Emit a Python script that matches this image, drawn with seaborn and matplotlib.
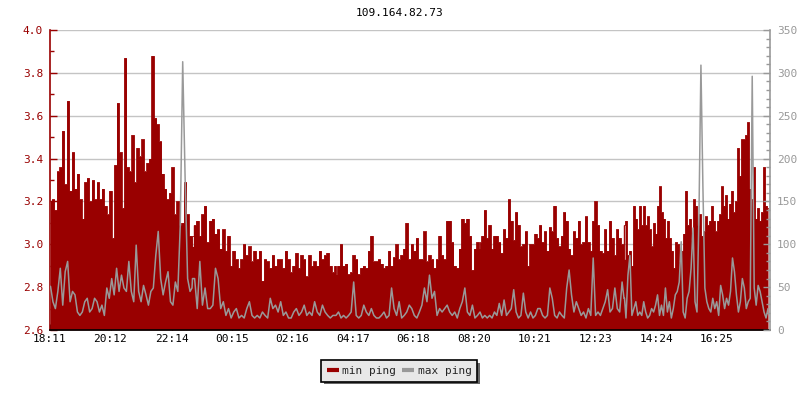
import numpy as np
import pandas as pd
import matplotlib
matplotlib.use("Agg")
import matplotlib.pyplot as plt
import seaborn as sns
from matplotlib.ticker import MultipleLocator, FormatStrFormatter

# ---------------- data ----------------
title = "109.164.82.73"
series_names = ["min ping", "max ping"]
tick_labels = ["18:11", "20:12", "22:14", "00:15", "02:16", "04:17",
               "06:18", "08:20", "10:21", "12:23", "14:24", "16:25"]
span_minutes = 1440  # 24 h window starting 18:11

# time windows (minutes after 18:11) covered by each chunk of samples
chunk_start = [1, 284, 572, 860, 1148]
chunk_end = [285, 571, 860, 1149, 1436]

# min ping (left axis)
min_ping_1 = [3.20, 3.21, 3.16, 3.34, 3.36, 3.53, 3.28, 3.67, 3.25, 3.43, 3.26, 3.33,
              3.21, 3.12, 3.29, 3.31, 3.20, 3.30, 3.21, 3.29, 3.21, 3.26, 3.18, 3.14,
              3.25, 3.03, 3.37, 3.66, 3.43, 3.17, 3.87, 3.36, 3.34, 3.51, 3.29, 3.45,
              3.41, 3.49, 3.34, 3.38, 3.40, 3.88, 3.59, 3.56, 3.48, 3.33, 3.26, 3.21,
              3.24, 3.36, 3.14, 3.20, 3.09, 3.10, 3.29, 3.14, 3.04, 3.04]
min_ping_2 = [2.99, 3.09, 3.11, 3.04, 3.14, 3.18, 3.01, 3.11, 3.12, 3.05, 3.07, 2.98,
              3.07, 2.97, 3.04, 2.90, 2.97, 2.93, 2.89, 2.93, 3.00, 2.95, 2.99, 2.92,
              2.97, 2.93, 2.97, 2.83, 2.93, 2.92, 2.89, 2.95, 2.90, 2.93, 2.93, 2.89,
              2.97, 2.93, 2.87, 2.90, 2.96, 2.89, 2.95, 2.93, 2.85, 2.95, 2.90, 2.92,
              2.90, 2.97, 2.93, 2.95, 2.96, 2.90, 2.87, 2.90]
min_ping_3 = [2.86, 2.90, 3.00, 2.90, 2.91, 2.86, 2.87, 2.95, 2.93, 2.86, 2.89, 2.90,
              2.89, 2.97, 3.04, 2.92, 2.92, 2.93, 2.91, 2.89, 2.90, 2.97, 2.90, 2.94,
              3.00, 2.93, 2.95, 2.98, 3.10, 2.93, 3.00, 2.97, 3.03, 2.93, 2.93, 3.06,
              2.92, 2.95, 2.93, 2.89, 2.93, 3.04, 2.95, 2.93, 3.11, 3.11, 3.01, 2.90,
              2.89, 2.98, 3.12, 3.10, 3.12, 3.04, 2.88, 2.98, 3.01, 2.98]
min_ping_4 = [3.01, 3.04, 3.16, 3.03, 3.09, 2.98, 3.04, 3.04, 3.01, 2.96, 3.07, 3.03,
              3.21, 3.11, 3.02, 3.15, 3.09, 2.99, 3.00, 3.06, 2.90, 3.00, 3.00, 3.05,
              3.03, 3.09, 3.01, 3.06, 2.97, 3.08, 3.06, 3.18, 3.03, 2.99, 3.04, 3.15,
              3.11, 2.98, 2.95, 3.06, 3.03, 3.11, 3.00, 3.01, 3.13, 3.01, 2.97, 3.11,
              3.20, 3.09, 2.97, 2.96, 3.07, 2.97, 3.11, 3.03, 2.95, 3.07, 3.03, 3.00,
              3.09]
min_ping_5 = [2.93, 3.11, 2.95, 2.97, 2.90, 3.18, 3.12, 3.07, 3.18, 3.09, 3.18, 3.09,
              3.13, 3.07, 2.99, 3.10, 3.05, 3.18, 3.27, 3.15, 3.12, 3.03, 3.11, 3.03,
              2.97, 2.89, 3.01, 3.00, 2.92, 2.97, 3.05, 3.25, 3.09, 3.12, 3.02, 3.21,
              3.18, 3.09, 3.14, 3.04, 3.06, 3.13, 3.09, 3.11, 3.18, 3.11, 3.06, 3.11,
              3.14, 3.27, 3.18, 3.23, 3.12, 3.19, 3.25, 3.15, 3.20, 3.45, 3.32, 3.49,
              3.49, 3.51, 3.57, 3.26, 3.21, 3.36, 3.12, 3.17, 3.11, 3.15, 3.36, 3.18,
              3.17]

# max ping (right axis)
max_ping_1 = [51, 33, 25, 45, 72, 29, 68, 80, 33, 45, 41, 21, 17, 21, 33, 37, 21, 25,
              37, 33, 21, 29, 17, 49, 37, 60, 41, 72, 45, 64, 49, 45, 80, 45, 33, 99,
              45, 33, 52, 41, 29, 45, 49, 87, 115, 60, 41, 56, 68, 33, 29, 56, 45, 122,
              313, 175, 60, 45, 60]
max_ping_2 = [49, 60, 25, 80, 29, 49, 25, 25, 29, 72, 60, 25, 33, 17, 25, 14, 21, 25,
              14, 17, 14, 25, 33, 17, 14, 17, 14, 21, 17, 14, 37, 25, 29, 21, 33, 17,
              21, 14, 14, 21, 25, 17, 21, 29, 17, 21, 17, 33, 21, 17, 29, 21, 17, 14,
              17, 17]
max_ping_3 = [17, 21, 14, 17, 14, 17, 21, 56, 17, 14, 17, 29, 21, 17, 25, 17, 14, 14,
              17, 21, 14, 17, 49, 25, 17, 33, 14, 17, 21, 29, 25, 17, 14, 21, 29, 49,
              33, 64, 37, 45, 17, 25, 21, 25, 29, 21, 17, 21, 14, 25, 33, 49, 21, 17,
              29, 14, 17, 21]
max_ping_4 = [21, 14, 17, 14, 17, 14, 21, 17, 31, 17, 35, 17, 21, 25, 47, 21, 14, 17,
              43, 21, 14, 21, 14, 17, 25, 25, 17, 14, 17, 49, 37, 17, 14, 21, 17, 14,
              49, 70, 41, 21, 33, 25, 17, 21, 14, 25, 17, 84, 17, 21, 17, 25, 33, 47,
              21, 25, 49, 25, 21, 56, 37]
max_ping_5 = [37, 14, 64, 87, 17, 25, 33, 17, 21, 17, 33, 21, 14, 17, 25, 21, 29, 41,
              17, 29, 17, 49, 21, 33, 14, 25, 41, 45, 56, 103, 21, 14, 37, 45, 72, 119,
              33, 21, 134, 309, 167, 49, 33, 25, 21, 37, 25, 33, 17, 52, 41, 25, 37, 29,
              45, 84, 68, 41, 21, 33, 60, 49, 25, 33, 37, 296, 49, 29, 52, 45, 33, 21,
              14, 25]

min_chunks = [min_ping_1, min_ping_2, min_ping_3, min_ping_4, min_ping_5]
max_chunks = [max_ping_1, max_ping_2, max_ping_3, max_ping_4, max_ping_5]


def build(chunks):
    t, v = [], []
    for s, e, vals in zip(chunk_start, chunk_end, chunks):
        t.extend(np.linspace(s, e, len(vals)))
        v.extend(vals)
    return np.array(t), np.array(v)


t_min, v_min = build(min_chunks)
t_max, v_max = build(max_chunks)
df_min = pd.DataFrame({"t": t_min, "v": v_min})
df_max = pd.DataFrame({"t": t_max, "v": v_max})


def tick_pos(lbl):
    h, m = map(int, lbl.split(":"))
    return ((h * 60 + m) - (18 * 60 + 11)) % 1440


tick_positions = [tick_pos(l) for l in tick_labels]

# ---------------- style ----------------
RED = "#990000"
GRAY = "#999999"
GRID = "#c4c4c4"
FONT = "DejaVu Sans Mono"

sns.set_style("white")
plt.rcParams["font.family"] = [FONT, "DejaVu Sans"]
plt.rcParams["font.size"] = 8

fig = plt.figure(figsize=(8, 4), dpi=100)
ax = fig.add_axes([0.0625, 0.175, 0.9, 0.75])

ax.fill_between(df_min["t"], 2.6, df_min["v"], step="mid", color=RED, linewidth=0, zorder=2)
sns.lineplot(data=df_min, x="t", y="v", ax=ax, color=RED, linewidth=0.6,
             drawstyle="steps-mid", estimator=None, legend=False, zorder=2)

ax.set_xlim(0, span_minutes)
ax.set_ylim(2.6, 4.0)
ax.yaxis.set_major_locator(MultipleLocator(0.2))
ax.yaxis.set_minor_locator(MultipleLocator(0.1))
ax.yaxis.set_major_formatter(FormatStrFormatter("%.1f"))
ax.set_xticks(tick_positions)
ax.set_xticklabels(tick_labels)
ax.grid(axis="y", color=GRID, linewidth=1, zorder=0)
ax.grid(axis="x", visible=False)
ax.set_axisbelow(True)
ax.set_xlabel("")
ax.set_ylabel("")

ax.tick_params(axis="y", which="major", direction="in", length=5, width=1,
               color=RED, labelcolor=RED, pad=5, labelsize=8)
ax.tick_params(axis="y", which="minor", direction="in", length=3, width=1, color=RED, left=True)
ax.tick_params(axis="x", direction="in", length=4, width=1, color="black",
               labelcolor="black", pad=3, labelsize=8, bottom=True)

for side in ["top", "right"]:
    ax.spines[side].set_visible(False)
ax.spines["left"].set_color(RED)
ax.spines["left"].set_linewidth(1.2)
ax.spines["bottom"].set_color("black")
ax.spines["bottom"].set_linewidth(1.2)

ax2 = ax.twinx()
sns.lineplot(data=df_max, x="t", y="v", ax=ax2, color=GRAY, linewidth=1.1,
             estimator=None, legend=False)
ax2.set_ylim(0, 350)
ax2.set_xlim(0, span_minutes)
ax2.yaxis.set_major_locator(MultipleLocator(50))
ax2.yaxis.set_minor_locator(MultipleLocator(10))
ax2.tick_params(axis="y", which="major", direction="in", length=5, width=1,
                color=GRAY, labelcolor=GRAY, pad=5, labelsize=8, right=True)
ax2.tick_params(axis="y", which="minor", direction="in", length=3, width=1,
                color=GRAY, right=True)
ax2.set_ylabel("")
ax2.set_xlabel("")
ax2.grid(False)
for side in ["top", "left", "bottom"]:
    ax2.spines[side].set_visible(False)
ax2.spines["right"].set_visible(True)
ax2.spines["right"].set_color(GRAY)
ax2.spines["right"].set_linewidth(1.2)

fig.text(0.5, 0.9675, title, ha="center", va="center", fontsize=8, color="black")

handles = [plt.Line2D([], [], color=RED, linewidth=3, solid_capstyle="butt"),
           plt.Line2D([], [], color=GRAY, linewidth=3, solid_capstyle="butt")]
leg = fig.legend(handles, series_names, loc="center", bbox_to_anchor=(0.499, 0.0725),
                 ncol=2, frameon=True, fancybox=False, facecolor="#e8e8e8",
                 edgecolor="black", framealpha=1, fontsize=8,
                 handlelength=1.1, handletextpad=0.3, columnspacing=0.5,
                 borderpad=0.5, shadow={"facecolor": "#666666", "alpha": 1, "edgecolor": "none"})
leg.get_frame().set_linewidth(1.2)

fig.savefig("out.png", dpi=100)
